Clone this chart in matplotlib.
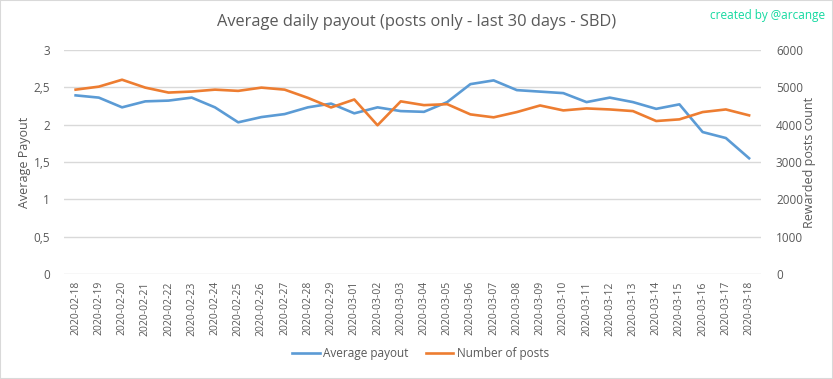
import matplotlib
matplotlib.use("Agg")
import matplotlib.pyplot as plt
from matplotlib.patches import Rectangle

# data
dates = ['2020-02-18', '2020-02-19', '2020-02-20', '2020-02-21', '2020-02-22', '2020-02-23',
         '2020-02-24', '2020-02-25', '2020-02-26', '2020-02-27', '2020-02-28', '2020-02-29',
         '2020-03-01', '2020-03-02', '2020-03-03', '2020-03-04', '2020-03-05', '2020-03-06',
         '2020-03-07', '2020-03-08', '2020-03-09', '2020-03-10', '2020-03-11', '2020-03-12',
         '2020-03-13', '2020-03-14', '2020-03-15', '2020-03-16', '2020-03-17', '2020-03-18']
avg_payout = [2.39, 2.36, 2.23, 2.31, 2.32, 2.36, 2.23, 2.03, 2.10, 2.14,
              2.23, 2.28, 2.15, 2.23, 2.18, 2.17, 2.30, 2.54, 2.59, 2.46,
              2.44, 2.42, 2.30, 2.36, 2.30, 2.21, 2.27, 1.90, 1.82, 1.55]
num_posts = [4933, 5013, 5198, 4987, 4855, 4882, 4933, 4900, 4987, 4933,
             4714, 4457, 4670, 3981, 4620, 4519, 4545, 4272, 4193, 4334,
             4510, 4378, 4431, 4404, 4360, 4095, 4139, 4334, 4404, 4246]

left_ticks = [0, 0.5, 1, 1.5, 2, 2.5, 3]
left_labels = ['0', '0,5', '1', '1,5', '2', '2,5', '3']
right_ticks = [0, 1000, 2000, 3000, 4000, 5000, 6000]

blue = '#5B9BD5'
orange = '#ED7D31'
txt = '#595959'
grid = '#D9D9D9'

plt.rcParams['font.family'] = ['Open Sans', 'DejaVu Sans']

fig = plt.figure(figsize=(8.33, 3.79), dpi=100)
fig.patches.append(Rectangle((0, 0), 1, 1, transform=fig.transFigure, fill=False,
                             edgecolor='#D9D9D9', linewidth=1.5))

ax = fig.add_axes([64 / 833, 1 - 274.3 / 379, (760.7 - 64) / 833, (274.3 - 49.7) / 379])
ax2 = ax.twinx()

x = list(range(len(dates)))
l1, = ax.plot(x, avg_payout, color=blue, linewidth=1.9, label='Average payout')
l2, = ax2.plot(x, num_posts, color=orange, linewidth=1.9, label='Number of posts')

ax.set_xlim(-0.5, len(dates) - 0.5)
ax.set_ylim(0, 3)
ax2.set_ylim(0, 6000)
ax.set_yticks(left_ticks)
ax.set_yticklabels(left_labels)
ax2.set_yticks(right_ticks)
ax.set_xticks(x)
ax.set_xticklabels(dates, rotation=90)

for t in left_ticks:
    ax.axhline(t, color=grid, linewidth=1, zorder=0)

for a in (ax, ax2):
    for s in a.spines.values():
        s.set_visible(False)
    a.tick_params(length=0, colors=txt, labelsize=8.5)
ax.tick_params(axis='y', pad=10)
ax2.tick_params(axis='y', pad=11)
ax.tick_params(axis='x', pad=5, labelsize=7.5)

ax.set_ylabel('Average Payout', color=txt, fontsize=9)
ax2.set_ylabel('Rewarded posts count', color=txt, fontsize=9)
ax.yaxis.set_label_coords(-0.047, 0.5)
ax2.yaxis.set_label_coords(1.060, 0.5)

fig.text(0.5, 1 - 22 / 379, 'Average daily payout (posts only - last 30 days - SBD)',
         ha='center', va='center', fontsize=11.8, color=txt)
fig.text(825 / 833, 1 - 15 / 379, 'created by @arcange', ha='right', va='center',
         fontsize=8.5, color='#14D9A0')

fig.legend(handles=[l1, l2], loc='center', bbox_to_anchor=(0.505, 1 - 354 / 379),
           ncol=2, frameon=False, fontsize=8.5, labelcolor=txt, handlelength=2.3,
           handletextpad=0.3, columnspacing=1.5)

fig.savefig('out.png', dpi=100)
